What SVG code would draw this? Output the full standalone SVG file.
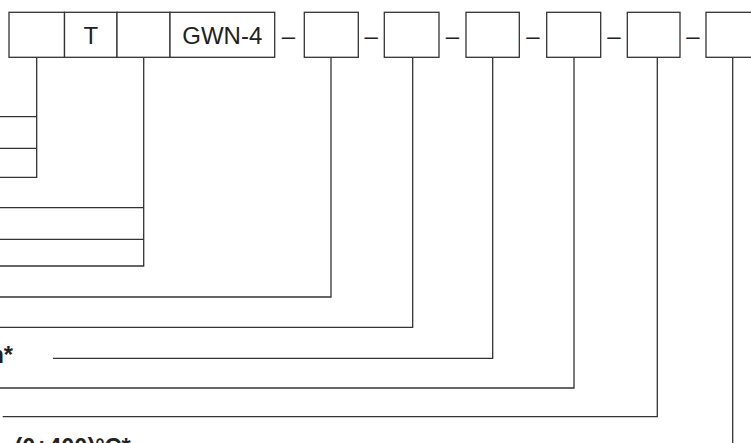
<svg xmlns="http://www.w3.org/2000/svg" width="751" height="443" viewBox="0 0 751 443">
<style>
.box{fill:#fff;stroke:#333;stroke-width:1.3}
.lbl{font-family:"Liberation Sans",Arial,sans-serif;font-size:24px;fill:#222;text-anchor:middle}
.dash{font-family:"Liberation Sans",Arial,sans-serif;font-size:24px;fill:#222;text-anchor:middle}
.conn{fill:none;stroke:#333;stroke-width:1.3}
.note{font-family:"Liberation Sans",Arial,sans-serif;font-size:23.5px;font-weight:bold;fill:#222}
</style>
<rect width="751" height="443" fill="#fff"/>
<g id="connectors">
<polyline class="conn" points="36.7,57.3 36.7,177.3 0,177.3"/>
<line class="conn" x1="0" y1="116.7" x2="36.7" y2="116.7"/>
<line class="conn" x1="0" y1="148.3" x2="36.7" y2="148.3"/>
<polyline class="conn" points="143.7,57.3 143.7,266 0,266"/>
<line class="conn" x1="0" y1="207.7" x2="143.7" y2="207.7"/>
<line class="conn" x1="0" y1="239.3" x2="143.7" y2="239.3"/>
<polyline class="conn" points="331,57.3 331,297 0,297"/>
<polyline class="conn" points="412.7,57.3 412.7,327.3 0,327.3"/>
<polyline class="conn" points="492.7,57.3 492.7,358.3 53,358.3"/>
<polyline class="conn" points="574,57.3 574,388 0,388"/>
<polyline class="conn" points="657.3,57.3 657.3,416.7 2.7,416.7"/>
<line class="conn" x1="732.7" y1="57.3" x2="732.7" y2="443"/>
</g>
<g id="box1"><rect class="box" x="9" y="12.3" width="55.5" height="45"/></g>
<g id="box2"><rect class="box" x="64.5" y="12.3" width="52.5" height="45"/><text class="lbl" x="90.75" y="43.5">T</text></g>
<g id="box3"><rect class="box" x="117" y="12.3" width="53" height="45"/></g>
<g id="box4"><rect class="box" x="170" y="12.3" width="104.7" height="45"/><text class="lbl" x="222.3" y="43.5">GWN-4</text></g>
<g id="box5"><rect class="box" x="304.3" y="12.3" width="54" height="45"/></g>
<g id="box6"><rect class="box" x="384.3" y="12.3" width="54.7" height="45"/></g>
<g id="box7"><rect class="box" x="466" y="12.3" width="53.3" height="45"/></g>
<g id="box8"><rect class="box" x="546.7" y="12.3" width="54" height="45"/></g>
<g id="box9"><rect class="box" x="627.3" y="12.3" width="52.7" height="45"/></g>
<g id="box10"><rect class="box" x="706" y="12.3" width="54" height="45"/></g>
<g id="dashes">
<text class="dash" x="288.5" y="43.5">–</text>
<text class="dash" x="371.3" y="43.5">–</text>
<text class="dash" x="452.5" y="43.5">–</text>
<text class="dash" x="533" y="43.5">–</text>
<text class="dash" x="614" y="43.5">–</text>
<text class="dash" x="693" y="43.5">–</text>
</g>
<g id="labels">
<text class="note" x="13" y="363" text-anchor="end">m*</text>
<text class="note" x="14.4" y="455">(0÷400)°C*</text>
</g>
</svg>
